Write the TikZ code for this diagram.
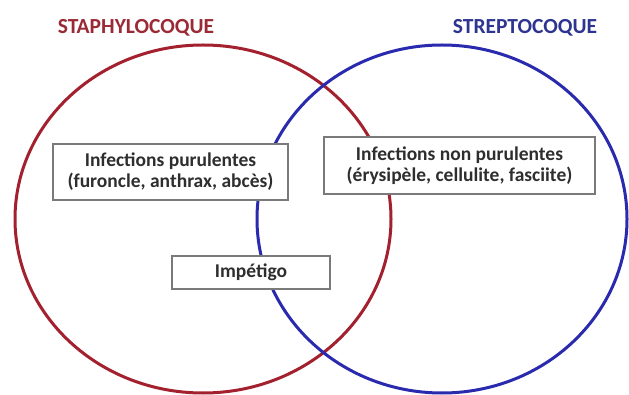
\documentclass[tikz,border=0pt]{standalone}
\usepackage{fontspec}
\setmainfont{Carlito}
\definecolor{staph}{HTML}{A3202E}
\definecolor{strep}{HTML}{2A2AAE}
\definecolor{staphtxt}{HTML}{9A2A36}
\definecolor{streptxt}{HTML}{2E3590}
\definecolor{boxline}{HTML}{7A7A7A}
\definecolor{boxtxt}{HTML}{2E2E2E}
\begin{document}
\begin{tikzpicture}[x=1pt,y=-1pt,
  ring/.style={line width=3pt},
  infobox/.style={draw=boxline, line width=1.3pt, fill=white, text=boxtxt,
    font=\bfseries\fontsize{19.5}{21}\selectfont, align=center, inner sep=0pt},
  title/.style={font=\bfseries\fontsize{21.5}{24}\selectfont, inner sep=0pt}]
\useasboundingbox (0,0) rectangle (629,395);
\fill[white] (0,0) rectangle (629,395);
\draw[ring, staph] (203,219) ellipse [x radius=188pt, y radius=174pt];
\draw[ring, strep] (442,219) ellipse [x radius=185pt, y radius=174pt];
\node[title, text=staphtxt] (t1) at (136,28) {STAPHYLOCOQUE};
\node[title, text=streptxt] (t2) at (525,28) {STREPTOCOQUE};
\node[infobox, minimum width=235pt, minimum height=56pt] (b1) at (170.5,172) {Infections purulentes\\(furoncle, anthrax, abcès)};
\node[infobox, minimum width=271pt, minimum height=57pt] (b2) at (459.5,165.5) {Infections non purulentes\\(érysipèle, cellulite, fasciite)};
\node[infobox, minimum width=158pt, minimum height=33pt] (b3) at (251,272.5) {Impétigo};
\end{tikzpicture}
\end{document}
